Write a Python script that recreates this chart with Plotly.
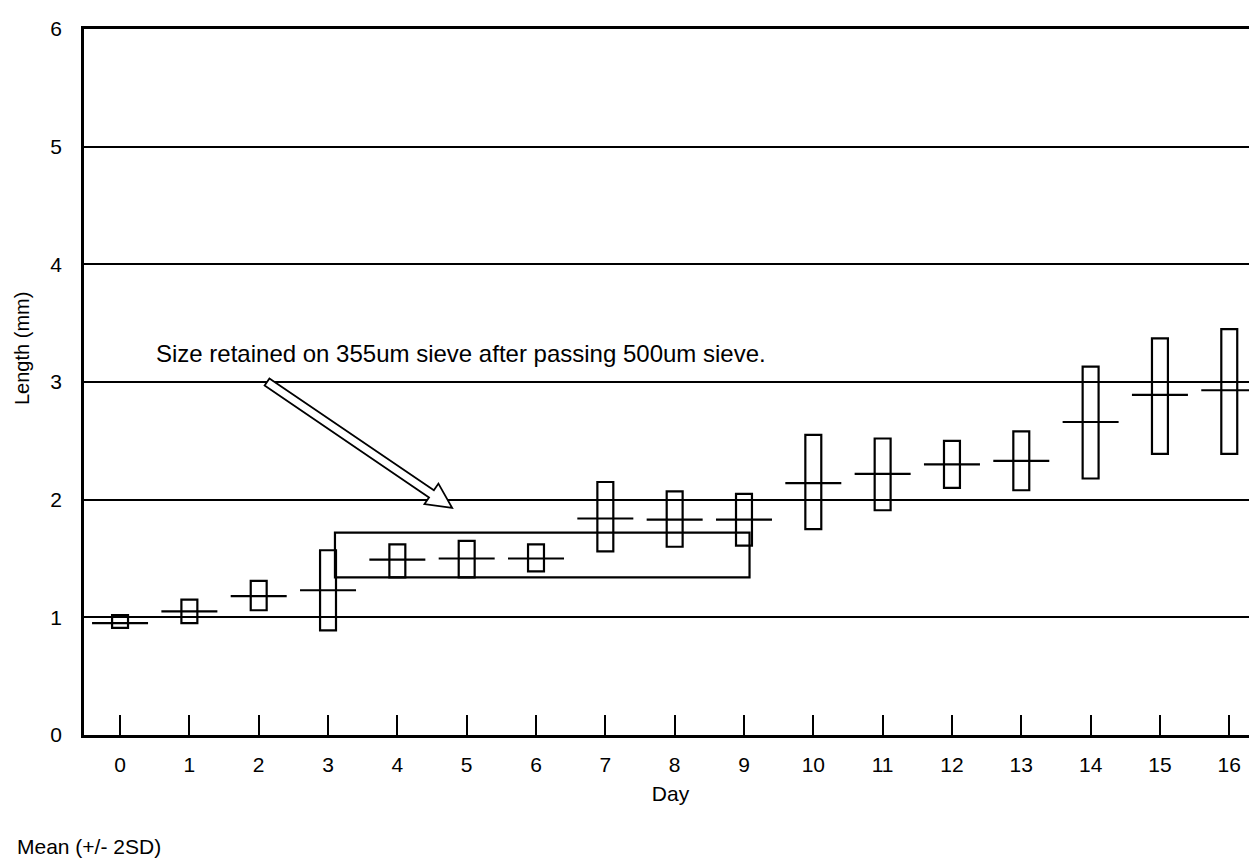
import plotly.graph_objects as go

# ---- data ----
days = list(range(17))
mean_len = [0.95, 1.05, 1.18, 1.23, 1.49, 1.50, 1.50, 1.84, 1.83, 1.83,
            2.14, 2.22, 2.30, 2.33, 2.66, 2.89, 2.93]
upper_2sd = [1.02, 1.15, 1.31, 1.57, 1.62, 1.65, 1.62, 2.15, 2.07, 2.05,
             2.55, 2.52, 2.50, 2.58, 3.13, 3.37, 3.45]
lower_2sd = [0.91, 0.95, 1.06, 0.89, 1.34, 1.34, 1.39, 1.56, 1.60, 1.61,
             1.75, 1.91, 2.10, 2.08, 2.18, 2.39, 2.39]
x_tick_labels = [str(d) for d in days]
y_ticks = [0, 1, 2, 3, 4, 5, 6]

# bracket around the 355um-sieve size class (days 3 to 9)
bracket_days = [3.1, 9.08]
bracket_len = [1.34, 1.72]
note_text = "Size retained on 355um sieve after passing 500um sieve."
note_pos = [0.49, 3.24]
arrow_tail = [2.12, 3.0]
arrow_tip = [4.79, 1.93]

FONT = "Liberation Sans, Arial, Helvetica, sans-serif"

# page geometry (the page body adds an 8px offset)
OFF = 8
W, H = 1257 - OFF, 859 - OFF
plot_left, plot_top, plot_bottom, plot_right = 84, 29, 735, 1257  # screen px
ml, mt = plot_left - OFF, plot_top - OFF
mb = H - (plot_bottom - OFF)
mr = W - (plot_right - OFF)
xr = [-0.52, 16.4]
yr = [0, 6]
plot_w = W - ml - mr
plot_h = H - mt - mb
sx = plot_w / (xr[1] - xr[0])
sy = plot_h / (yr[1] - yr[0])


def paper_x(px):
    return (px - plot_left) / plot_w


def paper_y(py):
    return (plot_bottom - py) / plot_h


fig = go.Figure()

fig.add_trace(go.Bar(
    x=days,
    y=[u - l for u, l in zip(upper_2sd, lower_2sd)],
    base=lower_2sd,
    width=0.23,
    marker=dict(color="rgba(0,0,0,0)", line=dict(color="black", width=2.2)),
    showlegend=False,
    hoverinfo="skip",
))

fig.add_trace(go.Scatter(
    x=days, y=mean_len, mode="markers",
    marker=dict(symbol="line-ew", size=40, color="black",
                line=dict(width=2.2, color="black")),
    showlegend=False, cliponaxis=False,
))

# bracket
fig.add_shape(type="rect", xref="x", yref="y",
              x0=bracket_days[0], x1=bracket_days[1],
              y0=bracket_len[0], y1=bracket_len[1],
              line=dict(color="black", width=2.2), layer="above")

# hollow arrow (geometry in screen pixels, converted to data units)
vx = (arrow_tip[0] - arrow_tail[0]) * sx
vy = -(arrow_tip[1] - arrow_tail[1]) * sy
L = (vx ** 2 + vy ** 2) ** 0.5
ux, uy = vx / L, vy / L
nx, ny = -uy, ux
hw, HW, head = 4.3, 12.4, 25
bx, by = vx - head * ux, vy - head * uy
pts_px = [
    (hw * nx, hw * ny),
    (bx + hw * nx, by + hw * ny),
    (bx + HW * nx, by + HW * ny),
    (vx, vy),
    (bx - HW * nx, by - HW * ny),
    (bx - hw * nx, by - hw * ny),
    (-hw * nx, -hw * ny),
]
pts = [(arrow_tail[0] + px / sx, arrow_tail[1] - py / sy) for px, py in pts_px]
path = "M " + " L ".join(f"{x:.4f},{y:.4f}" for x, y in pts) + " Z"
fig.add_shape(type="path", xref="x", yref="y", path=path,
              fillcolor="white", line=dict(color="black", width=1.8),
              layer="above")

fig.add_annotation(x=note_pos[0], y=note_pos[1], xref="x", yref="y",
                   text=note_text, showarrow=False, xanchor="left",
                   yanchor="middle", font=dict(family=FONT, size=24, color="black"))

# y-axis title (placed as in the reference, slightly above centre)
fig.add_annotation(x=paper_x(22), y=paper_y(349), xref="paper", yref="paper",
                   text="Length (mm)", textangle=-90, showarrow=False,
                   xanchor="center", yanchor="middle",
                   font=dict(family=FONT, size=20, color="black"))

fig.add_annotation(x=paper_x(15), y=paper_y(846),
                   xref="paper", yref="paper", text="Mean (+/- 2SD)",
                   showarrow=False, xanchor="left", yanchor="middle",
                   font=dict(family=FONT, size=21, color="black"))

fig.update_layout(
    width=W, height=H,
    margin=dict(l=ml, r=mr, t=mt, b=mb, pad=0),
    plot_bgcolor="white", paper_bgcolor="white",
    barmode="overlay",
    font=dict(family=FONT, size=21, color="black"),
    xaxis=dict(
        range=xr, tickmode="array", tickvals=days, ticktext=x_tick_labels,
        ticks="inside", ticklen=20, tickwidth=1.5, tickcolor="black",
        showline=True, linecolor="black", linewidth=2.5, mirror=True,
        showgrid=False, zeroline=False, ticklabelstandoff=9,
        tickfont=dict(family=FONT, size=21, color="black"),
        title=dict(text="Day", standoff=12,
                   font=dict(family=FONT, size=21, color="black")),
    ),
    yaxis=dict(
        range=yr, tickmode="array", tickvals=y_ticks,
        ticks="", showline=True, linecolor="black", linewidth=2.5,
        showgrid=True, gridcolor="black", gridwidth=2,
        zeroline=False, ticklabelstandoff=15,
        tickfont=dict(family=FONT, size=21, color="black"),
    ),
)

fig.write_html("out.html")
